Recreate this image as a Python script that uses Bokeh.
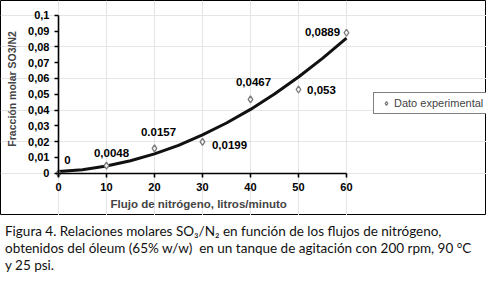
from bokeh.plotting import figure
from bokeh.models import (Range1d, LinearAxis, FixedTicker, ColumnDataSource, LabelSet,
                          Label, Legend, LegendItem, Div)
from bokeh.layouts import column
from bokeh.embed import file_html
from bokeh.resources import INLINE
from bokeh.core.properties import value

# ---- data ----
flow = [0, 10, 20, 30, 40, 50, 60]
ratio = [0, 0.0048, 0.0157, 0.0199, 0.0467, 0.053, 0.0889]
point_labels = ["0", "0,0048", "0.0157", "0,0199", "0,0467", "0,053", "0,0889"]

trend_flow = [0, 5, 10, 15, 20, 25, 30, 35, 40, 45, 50, 55, 60]
trend_ratio = [0.0011, 0.0023, 0.0046, 0.0079, 0.0123, 0.0177, 0.0243,
               0.0318, 0.0404, 0.0501, 0.0609, 0.0727, 0.0855]

x_ticks = [0, 10, 20, 30, 40, 50, 60]
x_tick_labels = ["0", "10", "20", "30", "40", "50", "60"]
y_ticks = [0, 0.01, 0.02, 0.03, 0.04, 0.05, 0.06, 0.07, 0.08, 0.09, 0.1]
y_tick_labels = ["0", "0,01", "0,02", "0,03", "0,04", "0,05", "0,06", "0,07",
                 "0,08", "0,09", "0,1"]

x_title = "Flujo de nitrógeno, litros/minuto"
y_title = "Fracción molar SO3/N2"
legend_label = "Dato experimental"
caption_lines = [
    "Figura 4. Relaciones molares SO₃/N₂ en función de los flujos de nitrógeno,",
    "obtenidos del óleum (65% w/w)&nbsp; en un tanque de agitación con 200 rpm, 90 °C",
    "y 25 psi.",
]

# label placement (screen px offsets from each point)
label_dx = [9, 5, 4, 27, 3, 23, -24]
label_dy = [13, 13, 16, -3, 17, 0, 1]

FONT = "Liberation Sans"

p = figure(width=486, height=215, output_backend="svg", toolbar_location=None,
           x_range=Range1d(-12.08, 89.17), y_range=Range1d(-0.0267, 0.1093),
           x_axis_location=None, y_axis_location=None,
           min_border=0)
p.outline_line_color = "black"
p.outline_line_width = 1
p.background_fill_color = "white"
p.border_fill_color = "white"

xaxis = LinearAxis(fixed_location=0, bounds=(0, 60),
                   ticker=FixedTicker(ticks=x_ticks, minor_ticks=[]),
                   major_label_overrides=dict(zip(x_ticks, x_tick_labels)))
yaxis = LinearAxis(fixed_location=0, bounds=(0, 0.1),
                   ticker=FixedTicker(ticks=y_ticks, minor_ticks=[]),
                   major_label_overrides=dict(zip(y_ticks, y_tick_labels)))
for ax in (xaxis, yaxis):
    ax.axis_line_width = 1.6
    ax.axis_line_color = "black"
    ax.major_tick_line_width = 1.6
    ax.major_tick_line_color = "black"
    ax.major_tick_out = 4
    ax.major_tick_in = 0
    ax.minor_tick_out = 0
    ax.minor_tick_in = 0
    ax.major_label_text_font = FONT
    ax.major_label_text_font_style = "bold"
    ax.major_label_text_font_size = "11px"
    ax.major_label_text_color = "black"
xaxis.major_label_standoff = 6
yaxis.major_label_standoff = 5
p.add_layout(xaxis, "below")
p.add_layout(yaxis, "left")

p.line(trend_flow, trend_ratio, line_width=3, line_color="#111111")
pts = p.scatter(flow, ratio, marker="diamond", size=7, line_color="#7a7a7a",
                line_width=1.3, fill_color="#f4f4f4")

src = ColumnDataSource(dict(x=flow, y=ratio, t=point_labels, dx=label_dx, dy=label_dy))
p.add_layout(LabelSet(x="x", y="y", text="t", x_offset="dx", y_offset="dy", source=src,
                      text_font=value(FONT), text_font_style="bold",
                      text_font_size="11.5px", text_align="center",
                      text_baseline="middle", text_color="black"))

p.add_layout(Label(x=29.2, y=-0.0197, text=x_title, text_font=FONT,
                   text_font_style="bold", text_font_size="11.5px",
                   text_align="center", text_baseline="middle"))
p.add_layout(Label(x=-9.6, y=0.0534, text=y_title, angle=1.5708, text_font=FONT,
                   text_font_style="bold", text_font_size="10.5px",
                   text_align="center", text_baseline="middle"))

legend = Legend(items=[LegendItem(label=legend_label, renderers=[pts])],
                location=(373, 101), orientation="vertical",
                label_text_font=FONT, label_text_font_size="11px",
                label_standoff=0, glyph_width=16, glyph_height=10, label_height=10,
                padding=4, margin=0, spacing=0,
                border_line_color="black", border_line_width=1,
                background_fill_color="white", background_fill_alpha=1)
p.add_layout(legend)

caption_html = '<div style="padding-top:3px">' + "<br>".join(caption_lines) + "</div>"
cap = Div(text=caption_html, width=486, height=54,
          styles={"font-family": "Lato", "font-size": "13.5px", "line-height": "17px",
                  "white-space": "nowrap", "color": "#111111"})

layout = column(p, cap, spacing=0)
open("out.html", "w").write(file_html(layout, INLINE))
